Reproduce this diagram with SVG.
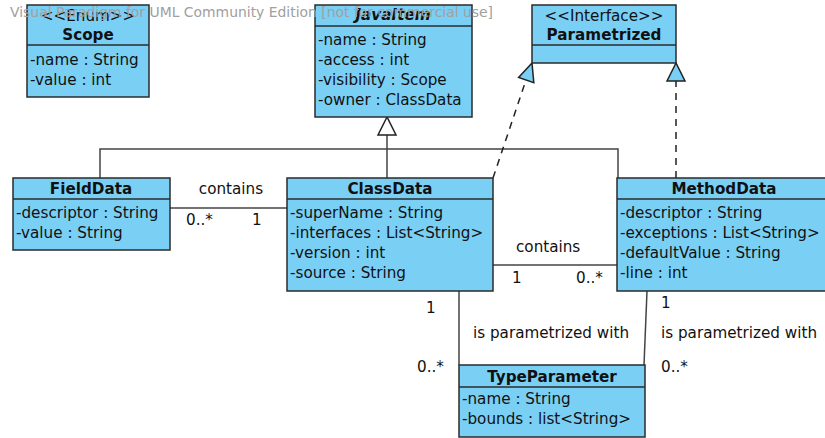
<svg xmlns="http://www.w3.org/2000/svg" width="825" height="438" viewBox="0 0 825 438">
<style>
.box{fill:#7acff5;stroke:#2b2b2b;stroke-width:1.5}
.sep{stroke:#2b2b2b;stroke-width:1.5}
.t{font-family:"DejaVu Sans",sans-serif;font-size:15.2px;fill:#111}
.b{font-weight:bold;text-anchor:middle}
.c{text-anchor:middle}
.ln{fill:none;stroke:#444;stroke-width:1.5}
.dash{fill:none;stroke:#222;stroke-width:1.5;stroke-dasharray:7,6}
.wm{font-family:"DejaVu Sans",sans-serif;font-size:14px;fill:#a0a0a0}
</style>
<rect width="825" height="438" fill="#ffffff"/>
<g id="connectors">
<polyline class="ln" points="100,178 100,149 618,149 618,178"/>
<line class="ln" x1="387" y1="178" x2="387" y2="135"/>
<polygon points="387,117 378,135 396,135" fill="#ffffff" stroke="#222" stroke-width="1.5"/>
<line class="dash" x1="493" y1="178" x2="526" y2="80"/>
<polygon points="532,63 518.6,77.4 533.8,82.6" fill="#7acff5" stroke="#222" stroke-width="1.5"/>
<line class="dash" x1="676" y1="178" x2="676" y2="81"/>
<polygon points="676,63 667,81 685,81" fill="#7acff5" stroke="#222" stroke-width="1.5"/>
<line class="ln" x1="170" y1="208" x2="287" y2="208"/>
<text class="t c" x="231" y="194">contains</text>
<text class="t" x="186" y="225">0..*</text>
<text class="t" x="252" y="225">1</text>
<line class="ln" x1="493" y1="265" x2="617" y2="265"/>
<text class="t" x="516" y="252">contains</text>
<text class="t" x="512" y="283">1</text>
<text class="t" x="576" y="283">0..*</text>
<line class="ln" x1="459" y1="291" x2="459" y2="365"/>
<text class="t" x="426" y="313">1</text>
<text class="t" x="473" y="338">is parametrized with</text>
<text class="t" x="417" y="372">0..*</text>
<line class="ln" x1="647" y1="291" x2="644" y2="365"/>
<text class="t" x="661" y="308">1</text>
<text class="t" x="661" y="338">is parametrized with</text>
<text class="t" x="661" y="372">0..*</text>
</g>
<g id="Scope">
<rect class="box" x="27" y="5" width="122" height="92"/>
<line class="sep" x1="27" y1="45" x2="149" y2="45"/>
<text class="t c" x="88" y="21">&lt;&lt;Enum&gt;&gt;</text>
<text class="t b" x="88" y="40">Scope</text>
<text class="t" x="30" y="65">-name : String</text>
<text class="t" x="30" y="85">-value : int</text>
</g>
<g id="JavaItem">
<rect class="box" x="315" y="5" width="157" height="112"/>
<line class="sep" x1="315" y1="26" x2="472" y2="26"/>
<text class="t b" x="393" y="20" font-style="italic">JavaItem</text>
<text class="t" x="318" y="45">-name : String</text>
<text class="t" x="318" y="65">-access : int</text>
<text class="t" x="318" y="85">-visibility : Scope</text>
<text class="t" x="318" y="105">-owner : ClassData</text>
</g>
<g id="Parametrized">
<rect class="box" x="532" y="5" width="144" height="58"/>
<line class="sep" x1="532" y1="45" x2="676" y2="45"/>
<text class="t c" x="604" y="21">&lt;&lt;Interface&gt;&gt;</text>
<text class="t b" x="604" y="40">Parametrized</text>
</g>
<g id="FieldData">
<rect class="box" x="13" y="178" width="157" height="72"/>
<line class="sep" x1="13" y1="199" x2="170" y2="199"/>
<text class="t b" x="91" y="194">FieldData</text>
<text class="t" x="16" y="218">-descriptor : String</text>
<text class="t" x="16" y="238">-value : String</text>
</g>
<g id="ClassData">
<rect class="box" x="287" y="178" width="206" height="113"/>
<line class="sep" x1="287" y1="199" x2="493" y2="199"/>
<text class="t b" x="390" y="194">ClassData</text>
<text class="t" x="290" y="218">-superName : String</text>
<text class="t" x="290" y="238">-interfaces : List&lt;String&gt;</text>
<text class="t" x="290" y="258">-version : int</text>
<text class="t" x="290" y="278">-source : String</text>
</g>
<g id="MethodData">
<rect class="box" x="617" y="178" width="215" height="113"/>
<line class="sep" x1="617" y1="199" x2="832" y2="199"/>
<text class="t b" x="724" y="194">MethodData</text>
<text class="t" x="620" y="218">-descriptor : String</text>
<text class="t" x="620" y="238">-exceptions : List&lt;String&gt;</text>
<text class="t" x="620" y="258">-defaultValue : String</text>
<text class="t" x="620" y="278">-line : int</text>
</g>
<g id="TypeParameter">
<rect class="box" x="459" y="365" width="186" height="72"/>
<line class="sep" x1="459" y1="387" x2="645" y2="387"/>
<text class="t b" x="552" y="382">TypeParameter</text>
<text class="t" x="462" y="404">-name : String</text>
<text class="t" x="462" y="424">-bounds : list&lt;String&gt;</text>
</g>
<text class="wm" x="10" y="17" textLength="483" lengthAdjust="spacingAndGlyphs">Visual Paradigm for UML Community Edition [not for commercial use]</text>
</svg>
